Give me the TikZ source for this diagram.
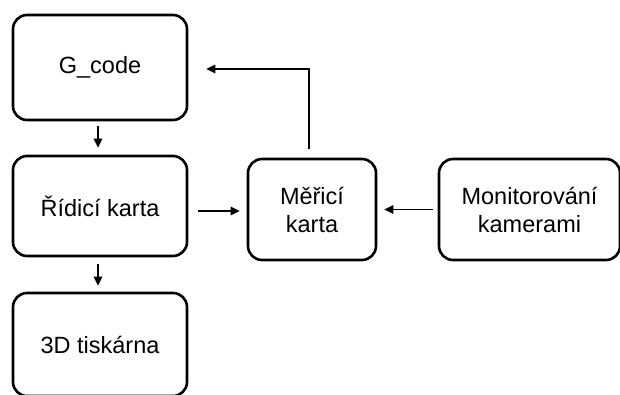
\documentclass[tikz,border=0pt]{standalone}
\usepackage{fontspec}
\setmainfont{Liberation Sans}
\usetikzlibrary{arrows.meta}
\begin{document}
\begin{tikzpicture}[x=1pt,y=-1pt,
  block/.style={draw=black, line width=2.6pt, rounded corners=14pt,
    inner sep=0pt, align=center, font=\fontsize{23.5}{28}\selectfont},
  flow/.style={line width=1.6pt, -{Triangle[length=9pt,width=8.5pt]}}]
\useasboundingbox (0,0) rectangle (620,394);

% blocks
\node[block, minimum width=174pt, minimum height=105pt] (g) at (100,67.5) {G\_code};
\node[block, minimum width=174pt, minimum height=100pt] (r) at (100,206) {Řídicí karta};
\node[block, minimum width=174pt, minimum height=103pt] (t) at (100,344.5) {3D tiskárna};
\node[block, minimum width=128pt, minimum height=101pt] (m) at (312,209.5) {Měřicí\\karta};
\node[block, minimum width=181pt, minimum height=101pt] (c) at (529.5,209.5) {Monitorování\\kamerami};

% connectors
\draw[flow, shorten <=5pt, shorten >=7pt] ([xshift=-2pt]g.south) -- ([xshift=-2pt]r.north);
\draw[flow, shorten <=7pt, shorten >=6pt] ([xshift=-2pt]r.south) -- ([xshift=-2pt]t.north);
\draw[flow, shorten <=10pt, shorten >=7pt] ([yshift=-5pt]r.east) -- ([yshift=-5pt]r.east -| m.west);
\draw[flow, shorten <=5pt, shorten >=7pt] (c.west) -- (m.east);
\draw[flow, shorten <=9pt, shorten >=18pt] ([xshift=-3pt]m.north) |- ([yshift=-1.5pt]g.east);
\end{tikzpicture}
\end{document}
